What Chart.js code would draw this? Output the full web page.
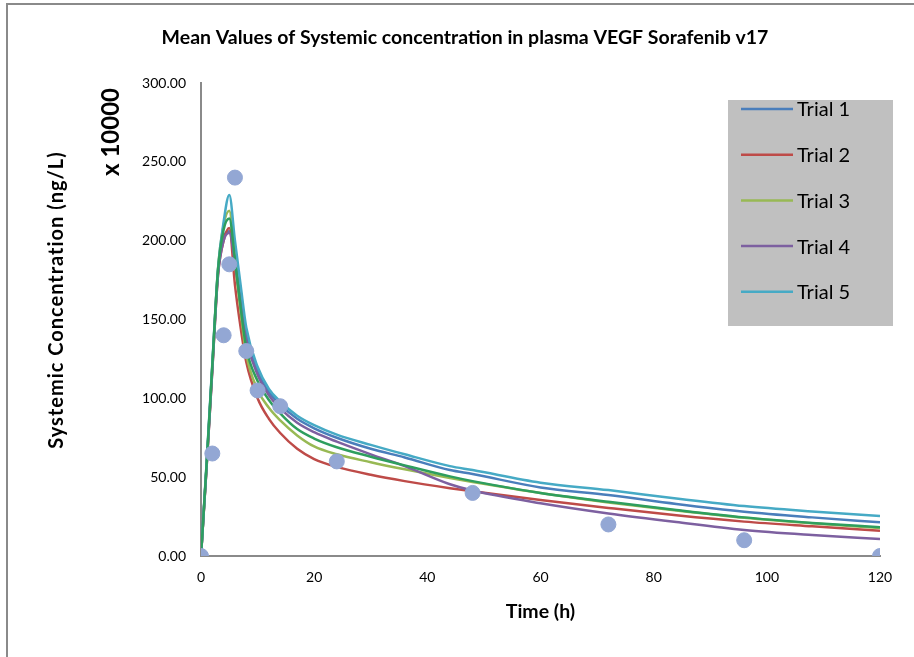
<!DOCTYPE html>
<html>
<head>
<meta charset="utf-8">
<script src="https://cdn.jsdelivr.net/npm/chart.js@4.4.1/dist/chart.umd.min.js"></script>
<style>
  html, body { margin: 0; padding: 0; background: #fff; }
  #wrap { width: 914px; height: 657px; position: relative; }
</style>
</head>
<body>
<div id="wrap"><canvas id="chart" width="914" height="657"></canvas></div>
<script>
// ─── Data ────────────────────────────────────────────────────────────────────
const TIMES = [0, 1, 2, 3, 4, 5, 6, 7, 8, 10, 12, 14, 17, 20, 24, 30, 36, 44, 48, 60, 72, 84, 96, 108, 120];

const TRIAL_1 = [0, 58, 120, 180, 202, 206, 188, 163, 140, 117, 104, 96, 87, 81, 75, 68, 62.5, 54.5, 52, 43.5, 38.7, 33, 28.1, 24.5, 21.4];
const TRIAL_2 = [0, 57, 118, 178, 200, 208, 172, 145, 123, 100, 87, 78, 68, 61.5, 56.5, 51.5, 47.5, 43, 41, 35.5, 30.5, 25.8, 21.8, 18.8, 16];
const TRIAL_3 = [0, 58, 120, 182, 210, 219, 186, 155, 128, 105.5, 94, 86, 76.5, 69.5, 64.5, 59.5, 55, 49.5, 47, 40, 34, 28.8, 24.2, 20.7, 17.8];
const TRIAL_4 = [0, 57, 118, 178, 200, 205, 186, 160, 137, 115, 102, 93.6, 84.5, 78.5, 72.5, 64.5, 57, 45.5, 41.5, 33.5, 27, 21.5, 16.5, 13.3, 10.8];
const TRIAL_5 = [0, 60, 122, 182, 212, 229, 200, 172, 145, 120, 106, 98, 89, 83, 77, 70.5, 64.5, 57, 54.5, 46.5, 41.8, 36.5, 31.7, 28.3, 25.4];
const TRIAL_6 = [0, 59, 121, 181, 207, 214, 188, 158, 132, 111, 99, 90.5, 80.5, 74.5, 69, 63, 57.5, 50.5, 47.5, 40, 34.4, 29.2, 24.5, 21, 18.2];

const OBS_TIMES  = [0, 2, 4, 5, 6, 8, 10, 14, 24, 48, 72, 96, 120];
const OBS_VALUES = [0, 65, 140, 185, 240, 130, 105, 95, 60, 40, 20, 10, 0];

const Y_TICK_STEP = 50;
const X_TICK_STEP = 20;

const FONT = 'Lato, "Open Sans", sans-serif';

// legend entries: only the five named trials
const SERIES = [
  { label: 'Trial 1', data: TRIAL_1, color: '#4A7EBB', legend: true },
  { label: 'Trial 2', data: TRIAL_2, color: '#BE4B48', legend: true },
  { label: 'Trial 3', data: TRIAL_3, color: '#98B954', legend: true },
  { label: 'Trial 4', data: TRIAL_4, color: '#7D60A0', legend: true },
  { label: 'Trial 5', data: TRIAL_5, color: '#46AAC5', legend: true },
  { label: 'Trial 6', data: TRIAL_6, color: '#2E9E5E', legend: false },
];

const toPoints = (xs, ys) => xs.map((x, i) => ({ x, y: ys[i] }));

const datasets = [
  {
    type: 'scatter',
    label: 'Observed',
    data: toPoints(OBS_TIMES, OBS_VALUES),
    backgroundColor: '#93A7D4',
    borderColor: '#93A7D4',
    pointRadius: 7.5,
    order: 0,
  },
  ...SERIES.map((s, i) => ({
    type: 'line',
    label: s.label,
    data: toPoints(TIMES, s.data),
    borderColor: s.color,
    backgroundColor: s.color,
    borderWidth: 2.5,
    pointRadius: 0,
    cubicInterpolationMode: 'monotone',
    showInLegend: s.legend,
    order: 10 - i,
  })),
];

// ─── Decorations: frame, titles, legend box ──────────────────────────────────
const decor = {
  id: 'decor',
  beforeDraw(chart) {
    const ctx = chart.ctx;
    ctx.save();
    ctx.fillStyle = '#fff';
    ctx.fillRect(0, 0, chart.width, chart.height);
    ctx.strokeStyle = '#8a8a8a';
    ctx.lineWidth = 2;
    ctx.beginPath();
    ctx.moveTo(7, chart.height);
    ctx.lineTo(7, 4);
    ctx.lineTo(chart.width, 4);
    ctx.stroke();
    ctx.restore();
  },
  afterDraw(chart) {
    const ctx = chart.ctx;
    const area = chart.chartArea;
    ctx.save();
    ctx.fillStyle = '#000';
    ctx.textAlign = 'center';
    ctx.textBaseline = 'middle';

    ctx.font = `bold 19.5px ${FONT}`;
    ctx.fillText('Mean Values of Systemic concentration in plasma VEGF Sorafenib v17', 465, 38);

    ctx.font = `bold 19.5px ${FONT}`;
    ctx.fillText('Time (h)', (area.left + area.right) / 2, 612);

    ctx.save();
    ctx.translate(57, 300);
    ctx.rotate(-Math.PI / 2);
    ctx.font = `bold 20px ${FONT}`;
    ctx.letterSpacing = '1px';
    ctx.fillText('Systemic Concentration (ng/L)', 0, 0);
    ctx.letterSpacing = '0px';
    ctx.restore();

    ctx.save();
    ctx.translate(111, 132);
    ctx.rotate(-Math.PI / 2);
    ctx.font = `bold 24px ${FONT}`;
    ctx.fillText('x 10000', 0, 0);
    ctx.restore();

    // legend box
    const box = { x: 728, y: 100, w: 165, h: 226 };
    ctx.fillStyle = '#C0C0C0';
    ctx.fillRect(box.x, box.y, box.w, box.h);
    ctx.textAlign = 'left';
    ctx.font = `20px ${FONT}`;
    const items = chart.data.datasets.filter(d => d.showInLegend);
    items.forEach((d, i) => {
      const y = 109 + i * 45.7;
      ctx.strokeStyle = d.borderColor;
      ctx.lineWidth = 2.5;
      ctx.beginPath();
      ctx.moveTo(741, y);
      ctx.lineTo(793, y);
      ctx.stroke();
      ctx.fillStyle = '#000';
      ctx.fillText(d.label, 797, y + 1);
    });
    ctx.restore();
  },
};

// ─── Chart ───────────────────────────────────────────────────────────────────
new Chart(document.getElementById('chart'), {
  type: 'line',
  data: { datasets },
  options: {
    responsive: false,
    animation: false,
    layout: { padding: { left: 0, top: 83, right: 34, bottom: 0 } },
    plugins: {
      legend: { display: false },
      title: { display: false },
      tooltip: { enabled: false },
    },
    scales: {
      x: {
        type: 'linear',
        min: 0,
        max: 120,
        grid: { display: false, drawTicks: false },
        border: { display: true, color: '#8a8a8a', width: 2 },
        ticks: {
          stepSize: X_TICK_STEP,
          color: '#000',
          padding: 13,
          font: { family: FONT, size: 14 },
        },
        afterFit(scale) { scale.height = 101; },
      },
      y: {
        min: 0,
        max: 300,
        grid: { display: false, drawTicks: false },
        border: { display: true, color: '#8a8a8a', width: 2 },
        ticks: {
          stepSize: Y_TICK_STEP,
          color: '#000',
          padding: 15,
          font: { family: FONT, size: 14 },
          callback: v => Number(v).toFixed(2),
        },
        afterFit(scale) { scale.width = 201; },
      },
    },
  },
  plugins: [decor],
});
</script>
</body>
</html>
